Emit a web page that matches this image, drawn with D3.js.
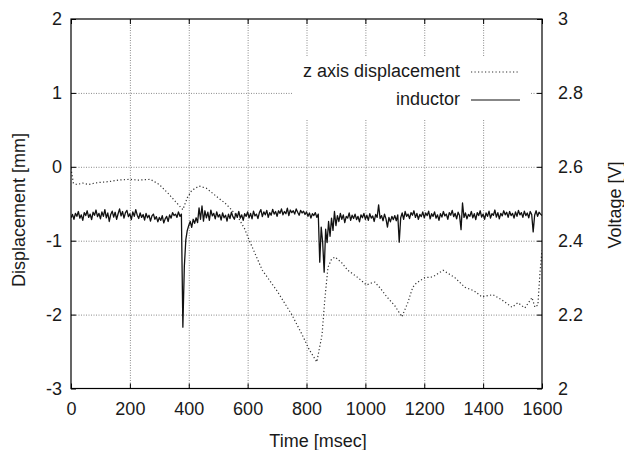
<!DOCTYPE html>
<html>
<head>
<meta charset="utf-8">
<script src="https://cdn.jsdelivr.net/npm/d3@7"></script>
<style>
  body { margin: 0; background: #fff; }
  svg { display: block; font-family: "Liberation Sans", Arial, Helvetica, sans-serif; }
</style>
</head>
<body>
<script>
// axis ticks
var xTicks = [0, 200, 400, 600, 800, 1000, 1200, 1400, 1600];
var yTicks = [-3, -2, -1, 0, 1, 2];
var y2Ticks = [2, 2.2, 2.4, 2.6, 2.8, 3];

// z axis displacement [mm]
var dispTime = [0, 8, 20, 40, 60, 80, 100, 130, 160, 200, 230, 270, 300, 330, 355, 380, 395, 410, 435, 460,
  500, 523, 545, 570, 590, 605, 650, 700, 750, 785, 810, 835, 853, 862, 873, 885, 897, 920, 940, 975,
  1004, 1022, 1032, 1050, 1073, 1100, 1124, 1144, 1161, 1174, 1202, 1229, 1264, 1304, 1338, 1370, 1396, 1433, 1463, 1498,
  1518, 1542, 1566, 1576, 1586, 1593, 1600];
var dispValue = [-0.02, -0.22, -0.24, -0.22, -0.24, -0.22, -0.21, -0.20, -0.18, -0.17, -0.18, -0.17, -0.24, -0.36, -0.47, -0.58, -0.42, -0.32, -0.26, -0.29,
  -0.42, -0.49, -0.58, -0.70, -0.84, -0.99, -1.40, -1.68, -2.00, -2.27, -2.48, -2.64, -2.27, -1.80, -1.36, -1.25, -1.22, -1.30, -1.40, -1.50,
  -1.60, -1.57, -1.56, -1.64, -1.76, -1.88, -2.03, -1.84, -1.63, -1.57, -1.50, -1.49, -1.40, -1.50, -1.63, -1.68, -1.76, -1.73, -1.80, -1.90,
  -1.84, -1.91, -1.77, -1.90, -1.87, -1.44, -1.13];

// inductor voltage [V], one sample every 5 msec from 0
var inductorStep = 5;
var inductorValue = [
  2.462, 2.471, 2.458, 2.474, 2.466, 2.479, 2.461, 2.470, 2.455, 2.476, 2.468, 2.481, 2.463, 2.472, 2.457, 2.477, 2.469, 2.483, 2.465, 2.474,
  2.459, 2.478, 2.466, 2.484, 2.462, 2.475, 2.452, 2.471, 2.480, 2.464, 2.477, 2.458, 2.473, 2.486, 2.467, 2.479, 2.461, 2.476, 2.482, 2.465,
  2.473, 2.457, 2.478, 2.466, 2.484, 2.469, 2.460, 2.475, 2.463, 2.471, 2.456, 2.474, 2.462, 2.469, 2.453, 2.467, 2.472, 2.458, 2.465, 2.451,
  2.463, 2.455, 2.468, 2.448, 2.459, 2.466, 2.452, 2.470, 2.461, 2.476, 2.468, 2.472, 2.463, 2.478, 2.466, 2.472, 2.166, 2.330, 2.402, 2.428,
  2.441, 2.452, 2.436, 2.458, 2.447, 2.462, 2.449, 2.489, 2.458, 2.494, 2.453, 2.481, 2.462, 2.477, 2.455, 2.483, 2.467, 2.474, 2.459, 2.478,
  2.464, 2.471, 2.456, 2.475, 2.462, 2.469, 2.453, 2.472, 2.460, 2.477, 2.465, 2.458, 2.474, 2.463, 2.479, 2.461, 2.470, 2.455, 2.473, 2.466,
  2.478, 2.462, 2.474, 2.459, 2.480, 2.467, 2.472, 2.460, 2.476, 2.484, 2.465, 2.478, 2.470, 2.482, 2.463, 2.476, 2.469, 2.485, 2.472, 2.479,
  2.466, 2.481, 2.474, 2.486, 2.470, 2.479, 2.473, 2.488, 2.468, 2.483, 2.476, 2.481, 2.472, 2.486, 2.477, 2.469, 2.482, 2.475, 2.480, 2.471,
  2.478, 2.466, 2.475, 2.461, 2.473, 2.468, 2.476, 2.463, 2.472, 2.342, 2.437, 2.394, 2.315, 2.431, 2.395, 2.452, 2.412, 2.461, 2.428, 2.479,
  2.441, 2.468, 2.452, 2.474, 2.458, 2.470, 2.449, 2.466, 2.461, 2.475, 2.455, 2.469, 2.460, 2.472, 2.457, 2.466, 2.451, 2.470, 2.462, 2.474,
  2.458, 2.469, 2.455, 2.473, 2.461, 2.467, 2.452, 2.471, 2.463, 2.497, 2.460, 2.468, 2.454, 2.472, 2.459, 2.437, 2.463, 2.451, 2.466, 2.457,
  2.468, 2.454, 2.470, 2.396, 2.462, 2.475, 2.458, 2.479, 2.466, 2.472, 2.460, 2.476, 2.469, 2.481, 2.463, 2.474, 2.458, 2.471, 2.465, 2.478,
  2.462, 2.475, 2.468, 2.480, 2.459, 2.473, 2.466, 2.478, 2.461, 2.470, 2.455, 2.473, 2.464, 2.479, 2.467, 2.472, 2.458, 2.476, 2.469, 2.482,
  2.465, 2.474, 2.459, 2.477, 2.468, 2.430, 2.502, 2.463, 2.475, 2.459, 2.471, 2.466, 2.479, 2.462, 2.473, 2.457, 2.476, 2.468, 2.481, 2.464,
  2.472, 2.458, 2.475, 2.466, 2.480, 2.461, 2.473, 2.469, 2.483, 2.464, 2.476, 2.459, 2.474, 2.467, 2.481, 2.470, 2.477, 2.463, 2.479, 2.468,
  2.474, 2.461, 2.478, 2.466, 2.482, 2.470, 2.476, 2.463, 2.480, 2.468, 2.475, 2.462, 2.479, 2.471, 2.424, 2.469, 2.481, 2.466, 2.477, 2.472,
  2.468];

var legendLabels = ['z axis displacement', 'inductor'];

var chart = function() {
  var width = 624;
  var height = 450;
  var left = 71;
  var right = 542;
  var top = 19;
  var bottom = 388.5;
  var fontSize = 18;
  var svg, x, y, y2;

  var initialize = function() {
    x = d3.scaleLinear().domain([0, 1600]).range([left, right]);
    y = d3.scaleLinear().domain([-3, 2]).range([bottom, top]);
    y2 = d3.scaleLinear().domain([2, 3]).range([bottom, top]);

    svg = d3.select('body')
      .append('svg')
      .attr('width', width)
      .attr('height', height);

    svg.append('rect')
      .attr('width', width)
      .attr('height', height)
      .style('fill', '#fff');

    svg.append('clipPath')
      .attr('id', 'plot-clip')
      .append('rect')
      .attr('x', left)
      .attr('y', top - 1)
      .attr('width', right - left)
      .attr('height', bottom - top + 2);
  };

  var drawGrid = function() {
    var vgrid = svg.append('g')
      .attr('transform', 'translate(0,' + bottom + ')')
      .call(d3.axisBottom(x).tickValues(xTicks.slice(1, -1)).tickSize(-(bottom - top)).tickFormat(''));
    var hgrid = svg.append('g')
      .attr('transform', 'translate(' + left + ',0)')
      .call(d3.axisLeft(y).tickValues(yTicks.slice(1, -1)).tickSize(-(right - left)).tickFormat(''));

    [vgrid, hgrid].forEach(function(g) {
      g.select('.domain').remove();
      g.selectAll('line')
        .style('stroke', '#8a8a8a')
        .style('stroke-width', 1)
        .style('stroke-dasharray', '1,1.5');
    });

    // the key is opaque and hides the grid behind it
    svg.append('rect')
      .attr('x', 292)
      .attr('y', 57)
      .attr('width', 530 - 292)
      .attr('height', 120 - 57)
      .style('fill', '#fff');
  };

  var drawData = function() {
    var plot = svg.append('g').attr('clip-path', 'url(#plot-clip)');

    var dispLine = d3.line()
      .x(function(d, i) { return x(dispTime[i]); })
      .y(function(d) { return y(d); });

    var inductorLine = d3.line()
      .x(function(d, i) { return x(i * inductorStep); })
      .y(function(d) { return y2(d); });

    plot.append('path')
      .datum(dispValue)
      .attr('d', dispLine)
      .style('fill', 'none')
      .style('stroke', '#333')
      .style('stroke-width', 1.2)
      .style('stroke-dasharray', '1.2,2.3');

    plot.append('path')
      .datum(inductorValue)
      .attr('d', inductorLine)
      .style('fill', 'none')
      .style('stroke', '#111')
      .style('stroke-width', 1.3)
      .style('stroke-linejoin', 'round');
  };

  var styleAxis = function(g) {
    g.select('.domain').remove();
    g.attr('font-size', fontSize).attr('font-family', null);
    g.selectAll('line').style('stroke', '#000');
    g.selectAll('text').style('fill', '#1a1a1a');
  };

  var plain = function(d) { return String(+d.toFixed(1)); };

  var drawAxes = function() {
    svg.append('g')
      .attr('transform', 'translate(0,' + bottom + ')')
      .call(d3.axisBottom(x).tickValues(xTicks).tickSize(-5).tickPadding(13.5).tickFormat(plain))
      .call(styleAxis);

    svg.append('g')
      .attr('transform', 'translate(0,' + top + ')')
      .call(d3.axisTop(x).tickValues(xTicks).tickSize(-5).tickFormat(''))
      .call(styleAxis);

    svg.append('g')
      .attr('transform', 'translate(' + left + ',0)')
      .call(d3.axisLeft(y).tickValues(yTicks).tickSize(-5).tickPadding(9).tickFormat(plain))
      .call(styleAxis);

    svg.append('g')
      .attr('transform', 'translate(' + right + ',0)')
      .call(d3.axisRight(y2).tickValues(y2Ticks).tickSize(-5).tickPadding(16).tickFormat(plain))
      .call(styleAxis);

    svg.append('rect')
      .attr('x', left)
      .attr('y', top)
      .attr('width', right - left)
      .attr('height', bottom - top)
      .style('fill', 'none')
      .style('stroke', '#000')
      .style('stroke-width', 1.2);
  };

  var drawLabels = function() {
    svg.append('text')
      .attr('x', 318)
      .attr('y', 447)
      .attr('text-anchor', 'middle')
      .style('font-size', fontSize + 'px')
      .style('fill', '#1a1a1a')
      .text('Time [msec]');

    svg.append('text')
      .attr('transform', 'translate(25,210) rotate(-90)')
      .attr('text-anchor', 'middle')
      .style('font-size', fontSize + 'px')
      .style('fill', '#1a1a1a')
      .text('Displacement [mm]');

    svg.append('text')
      .attr('transform', 'translate(621,205) rotate(-90)')
      .attr('text-anchor', 'middle')
      .style('font-size', fontSize + 'px')
      .style('fill', '#1a1a1a')
      .text('Voltage [V]');
  };

  var drawLegend = function() {
    var rows = [
      {label: legendLabels[0], base: 77, lineY: 72, x2: 518, dash: '1.2,2.3', color: '#333'},
      {label: legendLabels[1], base: 105, lineY: 100, x2: 520, dash: null, color: '#111'}
    ];
    rows.forEach(function(r) {
      svg.append('text')
        .attr('x', 460)
        .attr('y', r.base)
        .attr('text-anchor', 'end')
        .style('font-size', fontSize + 'px')
        .style('fill', '#1a1a1a')
        .text(r.label);
      svg.append('line')
        .attr('x1', 471)
        .attr('x2', r.x2)
        .attr('y1', r.lineY)
        .attr('y2', r.lineY)
        .style('stroke', r.color)
        .style('stroke-width', 1.2)
        .style('stroke-dasharray', r.dash);
    });
  };

  return {
    initialize: initialize,
    drawGrid: drawGrid,
    drawData: drawData,
    drawAxes: drawAxes,
    drawLabels: drawLabels,
    drawLegend: drawLegend
  };
}();

chart.initialize();
chart.drawGrid();
chart.drawData();
chart.drawAxes();
chart.drawLabels();
chart.drawLegend();
</script>
</body>
</html>
